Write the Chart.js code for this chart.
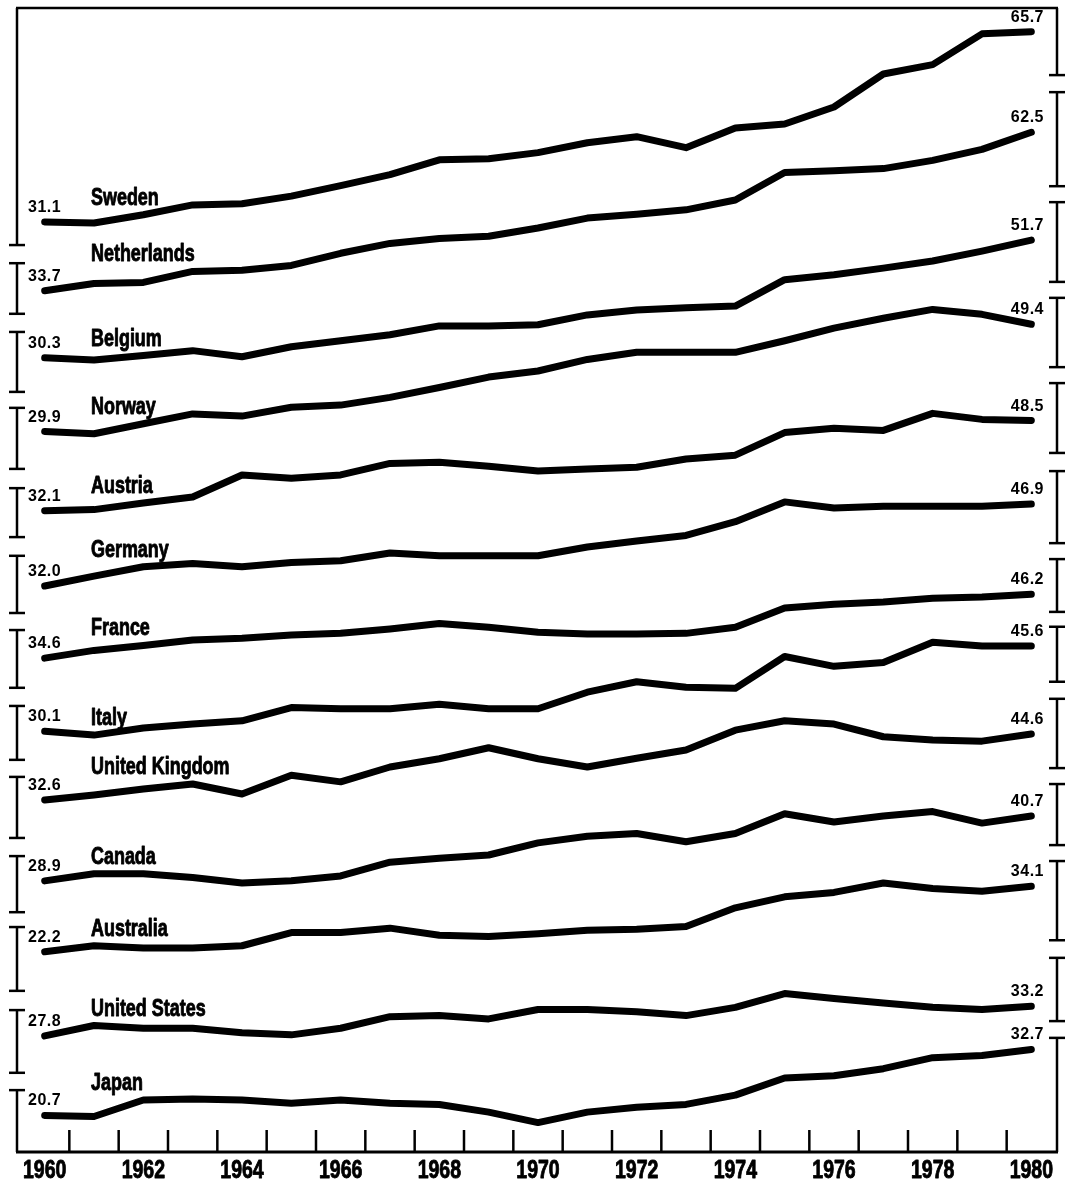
<!DOCTYPE html>
<html>
<head>
<meta charset="utf-8">
<script src="https://cdn.jsdelivr.net/npm/chart.js@4.4.1/dist/chart.umd.min.js"></script>
<style>
  html, body { margin: 0; padding: 0; background: #fff; }
  #wrap { width: 1074px; height: 1187px; position: relative; }
</style>
</head>
<body>
<div id="wrap"><canvas id="chart"></canvas></div>
<script>
const years = ['1960','1961','1962','1963','1964','1965','1966','1967','1968','1969','1970',
               '1971','1972','1973','1974','1975','1976','1977','1978','1979','1980'];

const countries = ['Sweden', 'Netherlands', 'Belgium', 'Norway', 'Austria', 'Germany', 'France',
                   'Italy', 'United Kingdom', 'Canada', 'Australia', 'United States', 'Japan'];

// receipts of government as % of GDP, 1960-1980
const sweden      = [31.1,30.9,32.4,34.2,34.4,35.8,37.7,39.7,42.4,42.6,43.7,45.5,46.6,44.6,48.2,48.9,52.0,58.0,59.7,65.3,65.7];
const netherlands = [33.7,35.0,35.2,37.2,37.4,38.3,40.5,42.3,43.2,43.6,45.1,46.9,47.6,48.4,50.2,55.2,55.5,55.9,57.4,59.4,62.5];
const belgium     = [30.3,29.9,30.7,31.6,30.5,32.3,33.4,34.5,36.1,36.1,36.3,38.1,39.0,39.4,39.7,44.5,45.4,46.6,47.9,49.7,51.7];
const norway      = [29.9,29.5,31.3,33.1,32.7,34.3,34.7,36.1,37.9,39.8,40.9,43.0,44.3,44.3,44.3,46.4,48.7,50.5,52.1,51.2,49.4];
const austria     = [32.1,32.3,33.5,34.6,38.6,38.0,38.6,40.7,40.9,40.2,39.3,39.7,40.0,41.5,42.2,46.3,47.1,46.7,49.8,48.7,48.5];
const germany     = [32.0,33.8,35.5,36.1,35.5,36.3,36.6,38.0,37.5,37.5,37.5,39.1,40.2,41.2,43.7,47.3,46.2,46.5,46.5,46.5,46.9];
const france      = [34.6,36.0,36.9,37.9,38.2,38.8,39.1,39.9,40.9,40.2,39.3,39.0,39.0,39.1,40.2,43.7,44.4,44.8,45.5,45.7,46.2];
const italy       = [30.1,29.4,30.7,31.4,32.0,34.4,34.2,34.2,35.0,34.2,34.2,37.2,39.1,38.1,37.9,43.7,41.9,42.6,46.3,45.6,45.6];
const uk          = [32.6,33.5,34.6,35.5,33.7,37.1,35.9,38.6,40.1,42.1,40.1,38.6,40.2,41.7,45.3,47.0,46.4,44.1,43.5,43.3,44.6];
const canada      = [28.9,30.2,30.2,29.5,28.5,28.9,29.8,32.3,33.0,33.6,35.8,37.0,37.5,36.0,37.5,41.1,39.6,40.7,41.5,39.4,40.7];
const australia   = [22.2,23.3,22.9,22.9,23.3,25.7,25.7,26.5,25.2,25.0,25.5,26.1,26.3,26.8,30.2,32.2,33.0,34.7,33.7,33.2,34.1];
const usa         = [27.8,29.7,29.2,29.2,28.4,28.0,29.2,31.3,31.5,30.9,32.6,32.6,32.2,31.5,33.0,35.5,34.6,33.8,33.0,32.6,33.2];
const japan       = [20.7,20.5,23.5,23.7,23.5,22.9,23.5,22.9,22.7,21.3,19.4,21.3,22.2,22.7,24.4,27.5,27.9,29.2,31.2,31.6,32.7];

const series = [sweden, netherlands, belgium, norway, austria, germany, france,
                italy, uk, canada, australia, usa, japan];

// each country gets its own hidden y axis; this is the value at the bottom of the plot
const bandFloor = [-138.0, -122.9, -114.1, -101.1, -84.5, -70.9, -55.2, -46.4, -31.4, -20.4, -14.2, 6.7, 14.05];
const bandSpan = 208;

// frame brackets, in each country's own units [low, high]; null = runs into the frame
const leftBrackets = [[26.9, null], [29.5, 38.7], [24.1, 35.0], [23.1, 34.2], [27.3, 36.2], [27.1, 37.5], [29.2, 39.7],
                      [24.9, 34.7], [25.7, 36.8], [23.2, 33.4], [15.1, 26.7], [21.1, 32.5], [null, 25.3]];
const rightBrackets = [[57.8, null], [52.7, 69.8], [44.1, 58.6], [41.6, 54.2], [42.6, 55.3], [39.8, 52.9], [43.0, 52.6],
                       [39.1, 49.1], [38.4, 51.0], [35.4, 46.5], [24.3, 38.7], [30.5, 42.0], [null, 34.8]];

const SANS = "'Liberation Sans', Arial, sans-serif";
const SQUEEZE = 0.78;   // fake a condensed face

const frame = {
    id: 'frame',
    afterDatasetsDraw(chart) {
        const { ctx, chartArea: area, scales } = chart;
        const x = scales.x;
        const leftX = area.left - 3;
        const rightX = area.right + 1;
        const cap = 8;

        ctx.save();
        ctx.strokeStyle = '#000';
        ctx.fillStyle = '#000';
        ctx.lineCap = 'butt';

        const seg = (x1, y1, x2, y2) => {
            ctx.beginPath();
            ctx.moveTo(x1, y1);
            ctx.lineTo(x2, y2);
            ctx.stroke();
        };
        // condensed, extra heavy text like the original typesetting
        const squeezed = (text, tx, ty, align) => {
            ctx.save();
            ctx.translate(tx, ty);
            ctx.scale(SQUEEZE, 1);
            ctx.textAlign = align;
            ctx.lineWidth = 0.9;
            ctx.lineJoin = 'round';
            ctx.fillText(text, 0, 0);
            ctx.strokeText(text, 0, 0);
            ctx.restore();
        };

        // top rule and bottom axis
        ctx.lineWidth = 2.5;
        seg(leftX - 1, area.top, rightX + 1, area.top);
        ctx.lineWidth = 3;
        seg(leftX - 1, area.bottom, rightX + 1, area.bottom);

        // year ticks, pointing up, between the years
        ctx.lineWidth = 2.5;
        for (let i = 0; i < years.length - 1; i++) {
            const xm = (x.getPixelForValue(i) + x.getPixelForValue(i + 1)) / 2;
            seg(xm, area.bottom, xm, area.bottom - 22);
        }

        // year labels, every other year
        ctx.textBaseline = 'alphabetic';
        ctx.font = 'bold 25px ' + SANS;
        years.forEach((y, i) => {
            if (i % 2 === 0) squeezed(y, x.getPixelForValue(i), area.bottom + 26, 'center');
        });

        // brackets
        ctx.lineWidth = 2.5;
        const bracket = (xp, scale, lo, hi) => {
            const yTop = hi === null ? area.top : scale.getPixelForValue(hi);
            const yBot = lo === null ? area.bottom : scale.getPixelForValue(lo);
            seg(xp, yTop, xp, yBot);
            if (hi !== null) seg(xp - cap, yTop, xp + cap, yTop);
            if (lo !== null) seg(xp - cap, yBot, xp + cap, yBot);
        };
        series.forEach((vals, i) => {
            const ys = scales['y' + i];
            bracket(leftX, ys, leftBrackets[i][0], leftBrackets[i][1]);
            bracket(rightX, ys, rightBrackets[i][0], rightBrackets[i][1]);
        });

        // labels
        series.forEach((vals, i) => {
            const ys = scales['y' + i];
            const last = vals.length - 1;
            const p0 = ys.getPixelForValue(vals[0]);
            const pN = ys.getPixelForValue(vals[last]);

            ctx.font = 'bold 16px ' + SANS;
            ctx.letterSpacing = '0.5px';
            ctx.textAlign = 'left';
            ctx.fillText(vals[0].toFixed(1), area.left + 8, p0 - 10);
            ctx.textAlign = 'right';
            ctx.fillText(vals[last].toFixed(1), area.right - 12, pN - 10);

            ctx.letterSpacing = '0px';
            ctx.font = 'bold 23px ' + SANS;
            const nx = x.getPixelForValue(1) - 3;
            const w = ctx.measureText(countries[i]).width * SQUEEZE;
            let top = Infinity;
            vals.forEach((v, j) => {
                const px = x.getPixelForValue(j);
                if (px >= nx - 30 && px <= nx + w + 10) top = Math.min(top, ys.getPixelForValue(v));
            });
            squeezed(countries[i], nx, top - 10, 'left');
        });
        ctx.restore();
    }
};

const scales = {
    x: {
        type: 'category',
        offset: true,
        grid: { display: false, drawTicks: false },
        border: { display: false },
        ticks: { display: false }
    }
};
series.forEach((vals, i) => {
    scales['y' + i] = {
        display: false,
        min: bandFloor[i],
        max: bandFloor[i] + bandSpan
    };
});

new Chart(document.getElementById('chart').getContext('2d'), {
    type: 'line',
    data: {
        labels: years,
        datasets: series.map((vals, i) => ({
            label: countries[i],
            data: vals,
            yAxisID: 'y' + i,
            borderColor: '#000',
            borderWidth: 7,
            borderCapStyle: 'round',
            borderJoinStyle: 'round',
            pointRadius: 0,
            tension: 0,
            fill: false
        }))
    },
    options: {
        responsive: true,
        maintainAspectRatio: false,
        animation: false,
        layout: { padding: { top: 8, left: 20, right: 18, bottom: 35 } },
        scales: scales,
        plugins: {
            legend: { display: false },
            tooltip: { enabled: false }
        }
    },
    plugins: [frame]
});
</script>
</body>
</html>
